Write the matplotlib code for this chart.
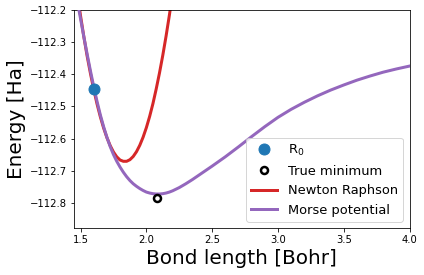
import matplotlib
matplotlib.use("Agg")
import matplotlib.pyplot as plt

# values
r0_x = [1.602]
r0_y = [-112.446]

min_x = [2.08]
min_y = [-112.784]

# Newton Raphson (quadratic model around R0)
nr_x = [1.450, 1.475, 1.500, 1.525, 1.550, 1.575, 1.600, 1.625, 1.650,
        1.675, 1.700, 1.725, 1.750, 1.775, 1.800, 1.825, 1.850, 1.875,
        1.900, 1.925, 1.950, 1.975, 2.000, 2.025, 2.050, 2.075, 2.100,
        2.125, 2.150, 2.175, 2.200]
nr_y = [-112.073, -112.148, -112.218, -112.283, -112.343, -112.397,
        -112.447, -112.492, -112.532, -112.567, -112.597, -112.622,
        -112.642, -112.657, -112.667, -112.671, -112.671, -112.666,
        -112.656, -112.641, -112.621, -112.596, -112.566, -112.531,
        -112.491, -112.445, -112.395, -112.340, -112.280, -112.215,
        -112.145]

# Morse potential
morse_x = [1.450, 1.475, 1.500, 1.525, 1.550, 1.575, 1.600, 1.625, 1.650,
           1.675, 1.700, 1.725, 1.750, 1.775, 1.800, 1.825, 1.850, 1.875,
           1.900, 1.925, 1.950, 1.975, 2.000, 2.025, 2.050, 2.075, 2.100,
           2.125, 2.150, 2.175, 2.200, 2.250, 2.300, 2.350, 2.400, 2.450,
           2.500, 2.600, 2.700, 2.800, 2.900, 3.000, 3.100, 3.200, 3.300,
           3.400, 3.500, 3.600, 3.700, 3.800, 3.900, 4.000]
morse_y = [-112.115, -112.171, -112.227, -112.283, -112.337, -112.389,
           -112.438, -112.484, -112.526, -112.563, -112.596, -112.625,
           -112.650, -112.671, -112.689, -112.705, -112.719, -112.731,
           -112.741, -112.749, -112.756, -112.762, -112.767, -112.770,
           -112.772, -112.773, -112.773, -112.772, -112.770, -112.767,
           -112.763, -112.753, -112.741, -112.728, -112.714, -112.700,
           -112.686, -112.657, -112.626, -112.594, -112.563, -112.534,
           -112.509, -112.487, -112.467, -112.449, -112.433, -112.418,
           -112.405, -112.393, -112.383, -112.374]

fig = plt.figure(figsize=(424/72, 275/72), dpi=72)
fig.subplots_adjust(left=74/424, right=409.5/424, top=1-10.3/275, bottom=1-228.3/275)
ax = fig.add_subplot(111)

p1, = ax.plot(r0_x, r0_y, 'o', color='tab:blue', markersize=11, zorder=5, label=r'R$_0$')
p2, = ax.plot(min_x, min_y, 'o', color='black', markerfacecolor='white',
              markersize=7, markeredgewidth=2.5, zorder=5, label='True minimum')
l1, = ax.plot(nr_x, nr_y, color='tab:red', lw=3, zorder=2, label='Newton Raphson')
l2, = ax.plot(morse_x, morse_y, color='tab:purple', lw=3, zorder=3, label='Morse potential')

ax.set_xlim(1.45, 4.0)
ax.set_ylim(-112.88, -112.2)
ax.set_xticks([1.5, 2.0, 2.5, 3.0, 3.5, 4.0])
ax.set_yticks([-112.8, -112.7, -112.6, -112.5, -112.4, -112.3, -112.2])

ax.set_xlabel('Bond length [Bohr]', fontsize=20)
ax.set_ylabel('Energy [Ha]', fontsize=20)

ax.legend(handles=[p1, p2, l1, l2], loc='lower right', fontsize=13)

fig.savefig('out.png', dpi=72)
